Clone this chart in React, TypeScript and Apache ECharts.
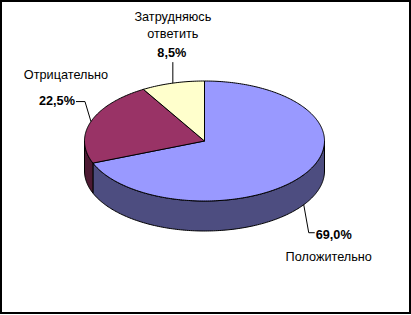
import React, { useEffect, useRef } from "react";
import * as echarts from "echarts";

const CATEGORIES = ["Положительно", "Отрицательно", "Затрудняюсь\nответить"];
const VALUES = [69.0, 22.5, 8.5];
const VALUE_LABELS = ["69,0%", "22,5%", "8,5%"];

const TOP_COLORS = ["#9999FF", "#993366", "#FFFFCC"];
const SIDE_COLORS = ["#4D4D80", "#4D1A33", "#80805F"];

// geometry (style)
const CX = 204.5;
const CY = 141;
const RX = 120;
const RY = 60;
const DEPTH = 30;

// label layout relative to the slice's mid-angle anchor (style)
const LABEL_LAYOUT = [
  { leader: [[5, 28], [11, 28]], val: [12, 30, "left"], name: [25, 52] },
  { leader: [[-6, -20], [-15, -20]], val: [-16, -21, "right"], name: [-25, -47] },
  { leader: [[0, -21]], val: [-1, -30, "center"], name: [0, -58] },
];

const FONT = "Liberation Sans, Arial, sans-serif";

function pt(deg: number, dy = 0): number[] {
  const r = (deg * Math.PI) / 180;
  return [CX + RX * Math.sin(r), CY - RY * Math.cos(r) + dy];
}

function arc(a: number, b: number, dy = 0): number[][] {
  const pts: number[][] = [];
  const n = Math.max(2, Math.ceil(Math.abs(b - a)));
  for (let k = 0; k <= n; k++) pts.push(pt(a + ((b - a) * k) / n, dy));
  return pts;
}

export default function App() {
  const ref = useRef<HTMLDivElement>(null);
  useEffect(() => {
    document.body.style.margin = "0";
    if (!ref.current) return;
    const chart = echarts.init(ref.current, undefined, { renderer: "svg" });
    const total = VALUES.reduce((s, v) => s + v, 0);
    const starts: number[] = [];
    VALUES.reduce((s, v, i) => {
      starts[i] = s;
      return s + v;
    }, 0);

    chart.setOption({
      animation: false,
      backgroundColor: "#ffffff",
      graphic: [
        {
          type: "rect",
          shape: { x: 1, y: 1, width: 409, height: 312 },
          style: { fill: "none", stroke: "#000", lineWidth: 2 },
          z: 100,
        },
      ],
      series: [
        {
          type: "custom",
          coordinateSystem: "none",
          data: VALUES.map((v, i) => ({ name: CATEGORIES[i], value: v })),
          renderItem: (params: any, api: any) => {
            const i = params.dataIndex;
            const v = api.value(0) as number;
            const a0 = (starts[i] / total) * 360;
            const a1 = ((starts[i] + v) / total) * 360;
            const children: any[] = [];
            // side face (front half: 90..270)
            const s0 = Math.max(a0, 90);
            const s1 = Math.min(a1, 270);
            if (s1 > s0) {
              const up = arc(s0, s1, 0);
              const down = arc(s1, s0, DEPTH);
              children.push({
                type: "polygon",
                shape: { points: up.concat(down) },
                style: { fill: SIDE_COLORS[i], stroke: "#000", lineWidth: 1 },
              });
            }
            // top face
            children.push({
              type: "polygon",
              shape: { points: [[CX, CY]].concat(arc(a0, a1, 0)) },
              style: { fill: TOP_COLORS[i], stroke: "#000", lineWidth: 1 },
            });
            // label anchor
            const mid = (a0 + a1) / 2;
            const front = Math.cos((mid * Math.PI) / 180) < 0;
            const anc = pt(mid, front ? DEPTH : 0);
            const L = LABEL_LAYOUT[i];
            const lpts = [anc].concat(
              L.leader.map((d: number[]) => [anc[0] + d[0], anc[1] + d[1]])
            );
            children.push({
              type: "polyline",
              shape: { points: lpts },
              style: { fill: "none", stroke: "#000", lineWidth: 1 },
            });
            children.push({
              type: "text",
              style: {
                text: VALUE_LABELS[i],
                x: anc[0] + (L.val[0] as number),
                y: anc[1] + (L.val[1] as number),
                font: "bold 12.7px " + FONT,
                fill: "#000",
                align: L.val[2],
                textAlign: L.val[2],
                verticalAlign: "middle",
                textVerticalAlign: "middle",
              },
            });
            children.push({
              type: "text",
              style: {
                text: CATEGORIES[i],
                x: anc[0] + L.name[0],
                y: anc[1] + L.name[1],
                font: "12.7px " + FONT,
                fill: "#000",
                align: "center",
                textAlign: "center",
                verticalAlign: "middle",
                textVerticalAlign: "middle",
                lineHeight: 17,
              },
            });
            return { type: "group", children };
          },
        },
      ],
    });
    return () => chart.dispose();
  }, []);
  return <div ref={ref} style={{ width: 411, height: 315 }} />;
}
